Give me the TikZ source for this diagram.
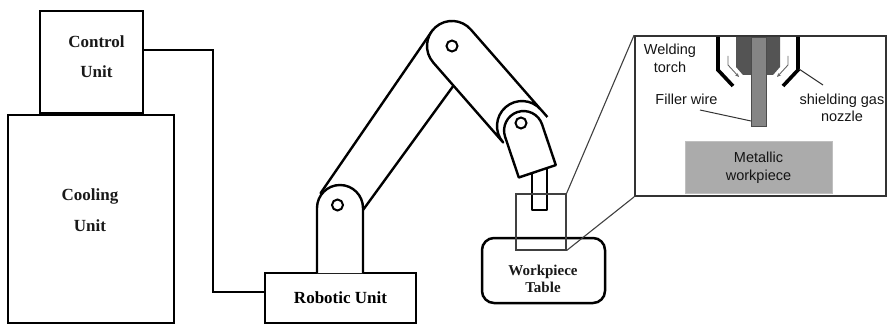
\documentclass[tikz,border=0pt]{standalone}
\usepackage{fontspec}
\setmainfont{Liberation Serif}
\newfontfamily\insetfont{Liberation Sans}
\usetikzlibrary{arrows.meta}
\begin{document}
\begin{tikzpicture}[x=1pt,y=1pt,yscale=-1,
  unitbox/.style={draw=black,line width=2.5pt,fill=white,inner sep=0pt},
  unitlabel/.style={font=\fontsize{17}{30}\selectfont\bfseries,align=center,text=black!90},
  wire/.style={line width=2.2pt,line join=miter},
  link/.style={draw=black,fill=white,line width=2.4pt,line join=round},
  pin/.style={draw=black,fill=white,line width=2pt},
  zoomline/.style={draw=black!75,line width=1.1pt},
  insetlabel/.style={font=\insetfont\fontsize{14.5}{17.5}\selectfont,align=center,text=black!92},
  gasflow/.style={draw=black!60,line width=0.9pt,-{Stealth[length=4pt,width=3.5pt]}},
  nozzlewall/.style={draw=black,line width=3.6pt,line cap=butt,line join=miter},
  leader/.style={draw=black!80,line width=1pt},
]
\useasboundingbox (0,0) rectangle (887,326);

% cabinets on the left
\node[unitbox,minimum width=166pt,minimum height=208pt] (cool) at (91,219) {};
\node[unitbox,minimum width=103pt,minimum height=102pt] (ctrl) at (91.5,62) {};
\node[unitlabel] (ctrltxt) at (96.5,57) {Control\\Unit};
\node[unitlabel,font=\fontsize{17}{31}\selectfont\bfseries] (cooltxt) at (90,210.5) {Cooling\\Unit};

% robot base
\node[unitbox,minimum width=151pt,minimum height=50pt,font=\fontsize{17}{20}\selectfont\bfseries] (robot) at (340.5,298) {Robotic Unit};

% cable from the controller to the robot
\coordinate (tapA) at (0,50);
\coordinate (tapB) at (0,292);
\draw[wire] (ctrl.east |- tapA) -- (213,50) -- (213,292) -- (robot.west |- tapB);

% lower arm link
\draw[link] (320.7,193) -- (431.4,31.9) -- (455,40) -- (470,63) -- (363,210) -- cycle;
% shoulder pillar
\draw[link] (317,273) -- (317,208) arc[start angle=180,end angle=360,radius=23] -- (363,273);
\draw[pin] (337.5,205) circle[radius=5.5];

% upper arm link
\draw[link] (433.2,62.5) -- (503.2,142.5) arc[start angle=138.8,end angle=318.8,radius=25]
  -- (470.8,29.5) arc[start angle=318.8,end angle=138.8,radius=25] -- cycle;
\draw[link] (540.8,109.5) -- (547.4,117.0);
\draw[pin] (452,46) circle[radius=5.5];

% torch tip and wrist
\draw[link,line width=2pt] (532,168) rectangle (547,210);
\draw[link] (518.8,177.5) -- (505.1,136.8) arc[start angle=161.3,end angle=341.3,radius=19.5]
  -- (555.8,165.1) -- cycle;
\draw[pin] (521,123) circle[radius=5.5];

% workpiece table
\node[draw,line width=2.5pt,rounded corners=12pt,minimum width=123pt,minimum height=65pt,fill=white] (table) at (543.5,270.5) {};
\node[font=\fontsize{15}{17}\selectfont\bfseries,align=center,text=black!90] (tabletxt) at (543,278.5) {Workpiece\\Table};

% detail frame and its callout
\node[draw=black!75,line width=1.1pt,minimum width=50pt,minimum height=56pt,inner sep=0pt] (focus) at (541,222) {};
\node[draw=black!80,line width=1.8pt,minimum width=251pt,minimum height=160pt,inner sep=0pt] (inset) at (760.5,116) {};
\draw[zoomline] (focus.north east) -- (inset.north west);
\draw[zoomline] (focus.south east) -- (inset.south west);

% welding head detail
\node[draw=black!25,fill=black!33,line width=1pt,minimum width=147pt,minimum height=52pt,inner sep=0pt,insetlabel] (metal) at (758.5,168) {Metallic\\workpiece};
\fill[black!67] (736,37) -- (736,67) -- (743,75) -- (773,75) -- (780,67) -- (780,37) -- cycle;
\draw[draw=black!70,fill=black!48,line width=0.8pt] (751,37) rectangle (766,126);
\draw[nozzlewall] (718,37) -- (718,70) -- (733,86);
\draw[nozzlewall] (798,37) -- (798,70) -- (783,86);
\draw[gasflow] (728,56) -- (728,65) -- (739,77);
\draw[gasflow] (788,56) -- (788,65) -- (777,77);

\node[insetlabel] (torchtxt) at (670,58.5) {Welding\\torch};
\node[insetlabel] (fillertxt) at (686.5,99) {Filler wire};
\node[insetlabel] (gastxt) at (842,108) {shielding gas\\nozzle};
\draw[leader] (700,110) -- (751,121);
\draw[leader] (799,69) -- (823,85);
\end{tikzpicture}
\end{document}
